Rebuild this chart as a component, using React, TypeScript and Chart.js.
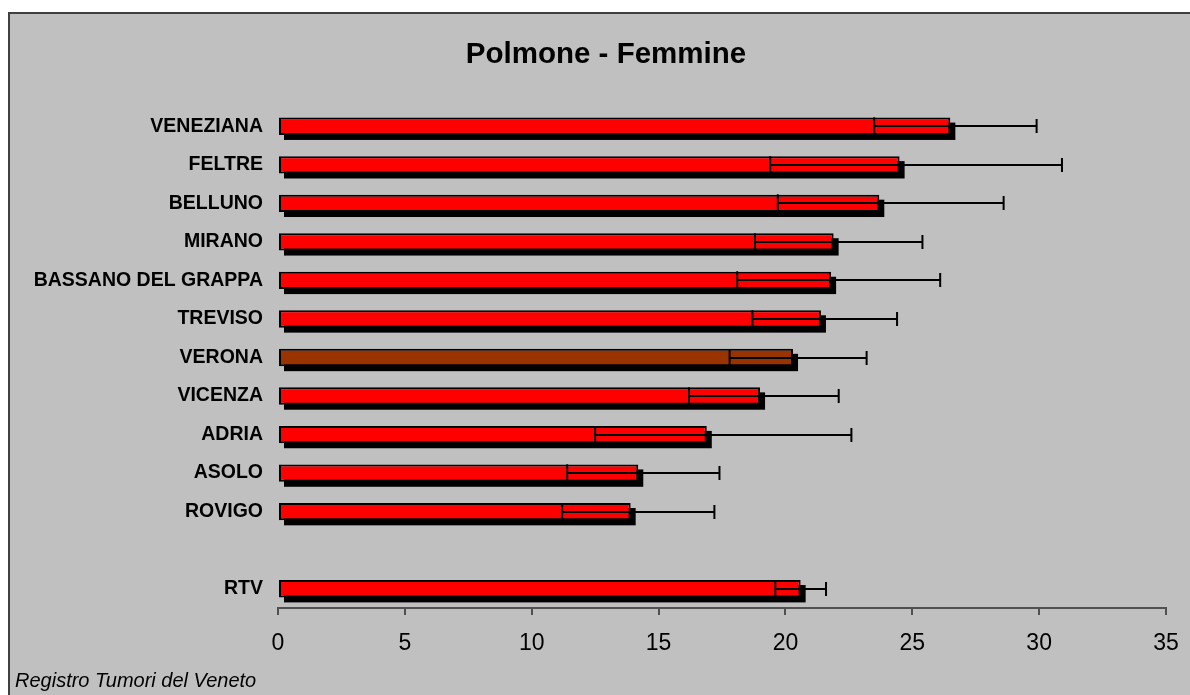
import React, { useEffect, useRef } from "react";
import { Chart, registerables } from "chart.js";

Chart.register(...registerables);

const chartTitle = "Polmone - Femmine";
const footerText = "Registro Tumori del Veneto";
const categories = ["VENEZIANA", "FELTRE", "BELLUNO", "MIRANO", "BASSANO DEL GRAPPA", "TREVISO", "VERONA", "VICENZA", "ADRIA", "ASOLO", "ROVIGO", "", "RTV"];
const rates = [26.5, 24.5, 23.7, 21.9, 21.8, 21.4, 20.3, 19.0, 16.9, 14.2, 13.9, null, 20.6];
const lowerCI = [23.5, 19.4, 19.7, 18.8, 18.1, 18.7, 17.8, 16.2, 12.5, 11.4, 11.2, null, 19.6];
const upperCI = [29.9, 30.9, 28.6, 25.4, 26.1, 24.4, 23.2, 22.1, 22.6, 17.4, 17.2, null, 21.6];
const barColors = ["#FF0000", "#FF0000", "#FF0000", "#FF0000", "#FF0000", "#FF0000", "#993300", "#FF0000", "#FF0000", "#FF0000", "#FF0000", "#FF0000", "#FF0000"];
const xTicks = [0, 5, 10, 15, 20, 25, 30, 35];

const W = 1190;
const H = 695;

const framePlugin = {
  id: "frame",
  beforeDraw(chart: any) {
    const ctx = chart.ctx;
    ctx.save();
    ctx.fillStyle = "#FFFFFF";
    ctx.fillRect(0, 0, W, H);
    ctx.fillStyle = "#C0C0C0";
    ctx.fillRect(9, 13, W, H);
    ctx.strokeStyle = "#404040";
    ctx.lineWidth = 2;
    ctx.beginPath();
    ctx.moveTo(9, H + 5);
    ctx.lineTo(9, 13);
    ctx.lineTo(W + 5, 13);
    ctx.stroke();
    ctx.restore();
  },
  afterDraw(chart: any) {
    const ctx = chart.ctx;
    ctx.save();
    ctx.fillStyle = "#000000";
    ctx.textAlign = "center";
    ctx.textBaseline = "middle";
    ctx.font = "bold 29.5px 'Liberation Sans', Arial, sans-serif";
    ctx.fillText(chartTitle, 606, 55);
    ctx.textAlign = "left";
    ctx.textBaseline = "alphabetic";
    ctx.font = "italic 20px 'Liberation Sans', Arial, sans-serif";
    ctx.fillText(footerText, 15, 687);
    ctx.restore();
  },
};

const shadowPlugin = {
  id: "shadow",
  beforeDatasetsDraw(chart: any) {
    const meta = chart.getDatasetMeta(0);
    const ctx = chart.ctx;
    ctx.save();
    ctx.fillStyle = "#000000";
    meta.data.forEach((bar: any, i: number) => {
      if (rates[i] == null) return;
      const p = bar.getProps(["x", "y", "base", "height"], true);
      const left = Math.min(p.x, p.base);
      const w = Math.abs(p.x - p.base);
      ctx.fillRect(left + 5, p.y - p.height / 2 + 5, w, p.height);
    });
    ctx.restore();
  },
  afterDatasetsDraw(chart: any) {
    const meta = chart.getDatasetMeta(0);
    const xs = chart.scales.x;
    const ctx = chart.ctx;
    ctx.save();
    ctx.strokeStyle = "#000000";
    ctx.lineWidth = 2;
    meta.data.forEach((bar: any, i: number) => {
      if (rates[i] == null) return;
      const p = bar.getProps(["y", "height"], true);
      const lo = xs.getPixelForValue(lowerCI[i] as number);
      const hi = xs.getPixelForValue(upperCI[i] as number);
      const y = Math.round(p.y);
      const h = p.height;
      ctx.beginPath();
      ctx.moveTo(lo, y);
      ctx.lineTo(hi, y);
      ctx.moveTo(lo, y - h / 2);
      ctx.lineTo(lo, y + h / 2);
      ctx.moveTo(hi, y - 7);
      ctx.lineTo(hi, y + 7);
      ctx.stroke();
    });
    ctx.restore();
  },
};

export default function App() {
  const ref = useRef<HTMLCanvasElement>(null);
  useEffect(() => {
    if (!ref.current) return;
    const chart = new Chart(ref.current, {
      type: "bar",
      data: {
        labels: categories,
        datasets: [
          {
            data: rates as any,
            backgroundColor: barColors,
            borderColor: "#000000",
            borderWidth: 2,
            borderSkipped: false,
            categoryPercentage: 1,
            barPercentage: 0.45,
          },
        ],
      },
      options: {
        indexAxis: "y",
        responsive: false,
        animation: false,
        layout: { padding: { left: 0, top: 107, right: 24, bottom: 0 } },
        plugins: { legend: { display: false }, tooltip: { enabled: false }, title: { display: false } },
        scales: {
          x: {
            type: "linear",
            min: 0,
            max: 35,
            afterBuildTicks: (s: any) => {
              s.ticks = xTicks.map((v) => ({ value: v }));
            },
            afterFit: (s: any) => {
              s.height = 87;
              s.paddingLeft = 0;
              s.paddingRight = 0;
            },
            grid: { display: true, drawOnChartArea: false, drawTicks: true, tickLength: 7, color: "#505050", lineWidth: 2 },
            border: { display: true, color: "#505050", width: 2 },
            ticks: { color: "#000000", padding: 15, font: { size: 23, family: "'Liberation Sans', Arial, sans-serif" } },
          },
          y: {
            afterFit: (s: any) => {
              s.width = 278;
              s.paddingTop = 0;
              s.paddingBottom = 0;
            },
            grid: { display: false, drawTicks: false },
            border: { display: false },
            ticks: { color: "#000000", padding: 15, font: { size: 19.5, weight: "bold", family: "'Liberation Sans', Arial, sans-serif" } },
          },
        },
      },
      plugins: [framePlugin, shadowPlugin],
    } as any);
    return () => chart.destroy();
  }, []);
  return (
    <div style={{ position: "fixed", left: 0, top: 0, width: W, height: H }}>
      <canvas ref={ref} width={W} height={H} style={{ display: "block" }} />
    </div>
  );
}
